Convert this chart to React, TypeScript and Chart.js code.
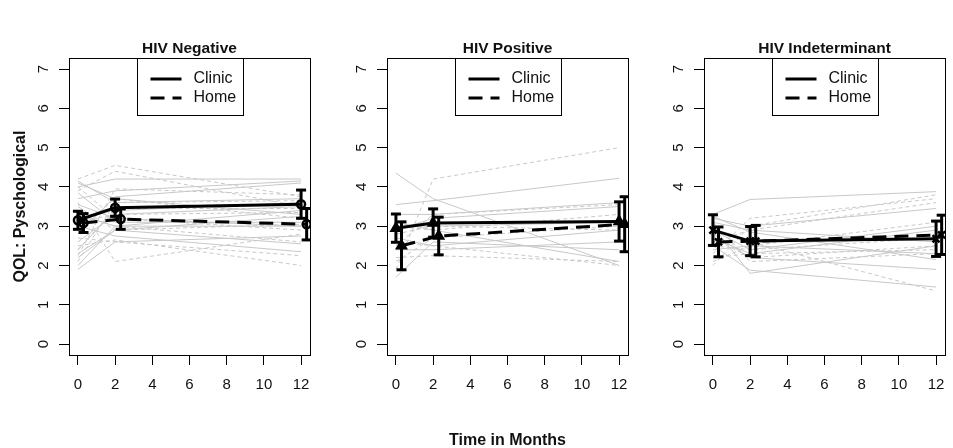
import React, { useEffect, useRef } from 'react';
import { Chart, registerables } from 'chart.js';
Chart.register(...registerables);

const FONT = "'Liberation Sans', Arial, Helvetica, sans-serif";

const months = [0, 2, 12];
const xTicks = [0, 2, 4, 6, 8, 10, 12];
const yTicks = [0, 1, 2, 3, 4, 5, 6, 7];
const legendLabels = ['Clinic', 'Home'];
const panelTitles = ['HIV Negative', 'HIV Positive', 'HIV Indeterminant'];
const yAxisTitle = 'QOL: Pyschological';
const xAxisTitle = 'Time in Months';
const homeOffset = 0.3;

// HIV Negative
const negClinicMean = [3.15, 3.47, 3.56];
const negClinicErr = [0.23, 0.22, 0.36];
const negHomeMean = [3.08, 3.18, 3.05];
const negHomeErr = [0.24, 0.26, 0.4];
const negClinicSubjects = [
  [4.0, 4.2, 4.2],
  [3.7, 3.9, 4.15],
  [2.0, 3.0, 3.0],
  [4.15, 3.6, 3.7],
  [2.6, 3.3, 3.5],
  [3.3, 3.0, 3.4],
  [2.3, 2.9, 2.55],
  [4.1, 3.7, 3.3],
  [3.0, 2.75, 2.35],
  [2.8, 3.75, 4.1],
  [3.55, 3.2, 3.0],
  [2.4, 3.4, 3.6],
  [1.9, 2.6, 2.75],
  [3.85, 3.1, 3.1],
  [2.2, 2.9, 3.25],
];
const negHomeSubjects = [
  [4.2, 4.55, 3.75],
  [3.9, 4.4, 3.5],
  [2.25, 3.95, 3.8],
  [3.3, 3.0, 2.6],
  [2.9, 3.7, 3.2],
  [2.5, 2.65, 2.0],
  [3.6, 2.1, 2.8],
  [3.1, 3.3, 3.35],
  [2.7, 2.6, 2.25],
  [4.0, 3.2, 2.9],
  [2.4, 3.45, 3.45],
  [3.5, 2.9, 3.05],
  [2.1, 3.6, 3.65],
];

// HIV Positive
const posClinicMean = [2.95, 3.08, 3.12];
const posClinicErr = [0.36, 0.36, 0.5];
const posHomeMean = [2.5, 2.75, 3.05];
const posHomeErr = [0.61, 0.48, 0.7];
const posClinicSubjects = [
  [4.35, 3.7, 2.0],
  [3.55, 3.65, 4.22],
  [3.3, 3.3, 3.6],
  [2.9, 3.2, 3.5],
  [3.0, 3.0, 3.1],
  [2.7, 2.5, 2.9],
  [2.4, 2.4, 2.6],
  [1.7, 2.6, 2.4],
  [3.1, 2.9, 2.1],
];
const posHomeSubjects = [
  [1.9, 4.2, 5.0],
  [2.5, 3.3, 3.55],
  [2.2, 2.25, 2.1],
  [3.0, 2.9, 3.3],
  [2.6, 2.5, 2.0],
  [2.1, 2.7, 3.0],
  [2.8, 3.0, 2.9],
];

// HIV Indeterminant
const indClinicMean = [2.9, 2.62, 2.68];
const indClinicErr = [0.39, 0.37, 0.45];
const indHomeMean = [2.6, 2.62, 2.78];
const indHomeErr = [0.38, 0.4, 0.5];
const indClinicSubjects = [
  [3.3, 3.68, 3.88],
  [3.2, 3.0, 3.45],
  [2.9, 2.4, 3.0],
  [3.0, 1.8, 2.5],
  [2.5, 1.88, 1.45],
  [3.1, 2.9, 2.6],
  [2.8, 2.2, 1.9],
  [2.4, 2.5, 2.3],
  [2.7, 2.3, 2.9],
  [3.25, 2.85, 2.15],
];
const indHomeSubjects = [
  [2.0, 3.0, 3.8],
  [2.3, 3.2, 3.7],
  [2.6, 2.9, 3.6],
  [2.2, 2.3, 2.4],
  [2.9, 2.6, 1.35],
  [2.5, 2.4, 2.7],
  [3.1, 2.1, 2.3],
  [2.1, 2.5, 3.1],
  [2.7, 2.2, 2.5],
];

const panels = [
  { title: panelTitles[0], cm: negClinicMean, ce: negClinicErr, hm: negHomeMean, he: negHomeErr, cs: negClinicSubjects, hs: negHomeSubjects, marker: 'circle', left: 0, width: 318, yWidth: 69, yTitle: true, xTitle: false },
  { title: panelTitles[1], cm: posClinicMean, ce: posClinicErr, hm: posHomeMean, he: posHomeErr, cs: posClinicSubjects, hs: posHomeSubjects, marker: 'triangle', left: 318, width: 318, yWidth: 69, yTitle: false, xTitle: true },
  { title: panelTitles[2], cm: indClinicMean, ce: indClinicErr, hm: indHomeMean, he: indHomeErr, cs: indClinicSubjects, hs: indHomeSubjects, marker: 'crossRot', left: 636, width: 317, yWidth: 68, yTitle: false, xTitle: false },
];

const H = 448;
const PLOT_BOTTOM = 355;
const PLOT_RIGHT_PAD = 7;
const HOME_DASH = [14, 8];
const TEXT = '#111';

const frame = {
  id: 'frame',
  afterDatasetsDraw(chart: any) {
    const { ctx, chartArea: a } = chart;
    ctx.save();
    ctx.strokeStyle = '#000';
    ctx.lineWidth = 1;
    ctx.setLineDash([]);
    ctx.strokeRect(Math.round(a.left) + 0.5, Math.round(a.top) + 0.5, Math.round(a.right - a.left), Math.round(a.bottom - a.top));
    ctx.restore();
  },
};

const insetLegend = {
  id: 'insetLegend',
  afterDraw(chart: any) {
    const { ctx, chartArea: a } = chart;
    const w = 106, h = 57;
    const cx = (a.left + a.right) / 2;
    const x0 = Math.round(cx - w / 2) + 0.5;
    const y0 = Math.round(a.top) + 0.5;
    ctx.save();
    ctx.fillStyle = '#fff';
    ctx.fillRect(x0, y0, w, h);
    ctx.strokeStyle = '#000';
    ctx.lineWidth = 1;
    ctx.strokeRect(x0, y0, w, h);
    legendLabels.forEach((label, i) => {
      const y = Math.round(y0 + 20 + i * 19);
      ctx.setLineDash(i === 0 ? [] : HOME_DASH);
      ctx.lineWidth = 3;
      ctx.strokeStyle = '#000';
      ctx.beginPath();
      ctx.moveTo(x0 + 13, y);
      ctx.lineTo(x0 + 44, y);
      ctx.stroke();
      ctx.setLineDash([]);
      ctx.fillStyle = TEXT;
      ctx.font = `16px ${FONT}`;
      ctx.textBaseline = 'middle';
      ctx.textAlign = 'left';
      ctx.fillText(label, x0 + 56, y);
    });
    ctx.restore();
  },
};

function buildDatasets(p: any) {
  const ds: any[] = [];
  const meanDs = (xs: number[], ys: number[], dashed: boolean) => ({
    data: xs.map((x, i) => ({ x, y: ys[i] })),
    showLine: true,
    borderColor: '#000',
    borderWidth: 3,
    borderDash: dashed ? HOME_DASH : [],
    pointStyle: p.marker,
    pointRadius: p.marker === 'circle' ? 4 : 5,
    pointBorderWidth: 2.5,
    pointBorderColor: '#000',
    pointBackgroundColor: p.marker === 'triangle' ? '#000' : 'rgba(0,0,0,0)',
  });
  const cx = months;
  const hx = months.map((m) => m + homeOffset);
  ds.push(meanDs(cx, p.cm, false));
  ds.push(meanDs(hx, p.hm, true));
  const errDs = (x: number, m: number, e: number) => ({
    data: [{ x, y: m - e }, { x, y: m + e }],
    showLine: true,
    borderColor: '#000',
    borderWidth: 3,
    pointStyle: 'line',
    pointRadius: 5,
    pointBorderWidth: 3,
    pointBorderColor: '#000',
  });
  cx.forEach((x, i) => ds.push(errDs(x, p.cm[i], p.ce[i])));
  hx.forEach((x, i) => ds.push(errDs(x, p.hm[i], p.he[i])));
  const subjDs = (vals: number[], dashed: boolean) => ({
    data: months.map((m, i) => ({ x: m, y: vals[i] })),
    showLine: true,
    borderColor: '#c8c8c8',
    borderWidth: 1,
    borderDash: dashed ? [4, 3] : [],
    pointRadius: 0,
  });
  p.cs.forEach((v: number[]) => ds.push(subjDs(v, false)));
  p.hs.forEach((v: number[]) => ds.push(subjDs(v, true)));
  return ds;
}

function Panel({ p }: { p: any }) {
  const ref = useRef<HTMLCanvasElement>(null);
  useEffect(() => {
    const chart = new Chart(ref.current as HTMLCanvasElement, {
      type: 'scatter',
      data: { datasets: buildDatasets(p) },
      options: {
        responsive: false,
        animation: false,
        events: [],
        layout: { padding: { top: 39, left: 0, right: PLOT_RIGHT_PAD, bottom: 0 } },
        plugins: {
          legend: { display: false },
          tooltip: { enabled: false },
          title: {
            display: true,
            text: p.title,
            fullSize: false,
            color: TEXT,
            font: { family: FONT, size: 15.5, weight: 'bold' },
            padding: { top: 0, bottom: 0.5 },
          },
        },
        scales: {
          x: {
            type: 'linear',
            min: -0.48,
            max: 12.48,
            afterBuildTicks: (s: any) => { s.ticks = xTicks.map((v) => ({ value: v })); },
            afterFit: (s: any) => {
              s.height = H - PLOT_BOTTOM;
              s.paddingLeft = 0;
              s.paddingRight = 0;
            },
            grid: { drawOnChartArea: false, drawTicks: true, tickLength: 10, color: '#000', lineWidth: 1 },
            border: { display: true, color: '#000', width: 1 },
            ticks: { color: TEXT, font: { family: FONT, size: 15 }, padding: 11, maxRotation: 0, minRotation: 0, autoSkip: false },
            title: {
              display: p.xTitle,
              text: xAxisTitle,
              color: TEXT,
              font: { family: FONT, size: 16, weight: 'bold' },
              padding: { top: 0, bottom: -2 },
            },
          },
          y: {
            type: 'linear',
            min: -0.28,
            max: 7.28,
            afterBuildTicks: (s: any) => { s.ticks = yTicks.map((v) => ({ value: v })); },
            afterFit: (s: any) => {
              s.width = p.yWidth;
              s.paddingTop = 0;
              s.paddingBottom = 0;
            },
            grid: { drawOnChartArea: false, drawTicks: true, tickLength: 10, color: '#000', lineWidth: 1 },
            border: { display: true, color: '#000', width: 1 },
            ticks: { color: TEXT, font: { family: FONT, size: 15 }, padding: 11, minRotation: 90, maxRotation: 90, crossAlign: 'center', autoSkip: false },
            title: {
              display: p.yTitle,
              text: yAxisTitle,
              color: TEXT,
              font: { family: FONT, size: 16, weight: 'bold' },
              padding: { top: 11.4, bottom: 0 },
            },
          },
        },
      } as any,
      plugins: [frame, insetLegend],
    });
    return () => chart.destroy();
  }, [p]);
  return (
    <canvas
      ref={ref}
      width={p.width}
      height={H}
      style={{ position: 'absolute', left: p.left, top: 0, width: p.width, height: H }}
    />
  );
}

export default function App() {
  return (
    <div style={{ position: 'absolute', left: 0, top: 0, width: 953, height: H, overflow: 'hidden', background: '#fff' }}>
      {panels.map((p, i) => (
        <Panel key={i} p={p} />
      ))}
    </div>
  );
}
